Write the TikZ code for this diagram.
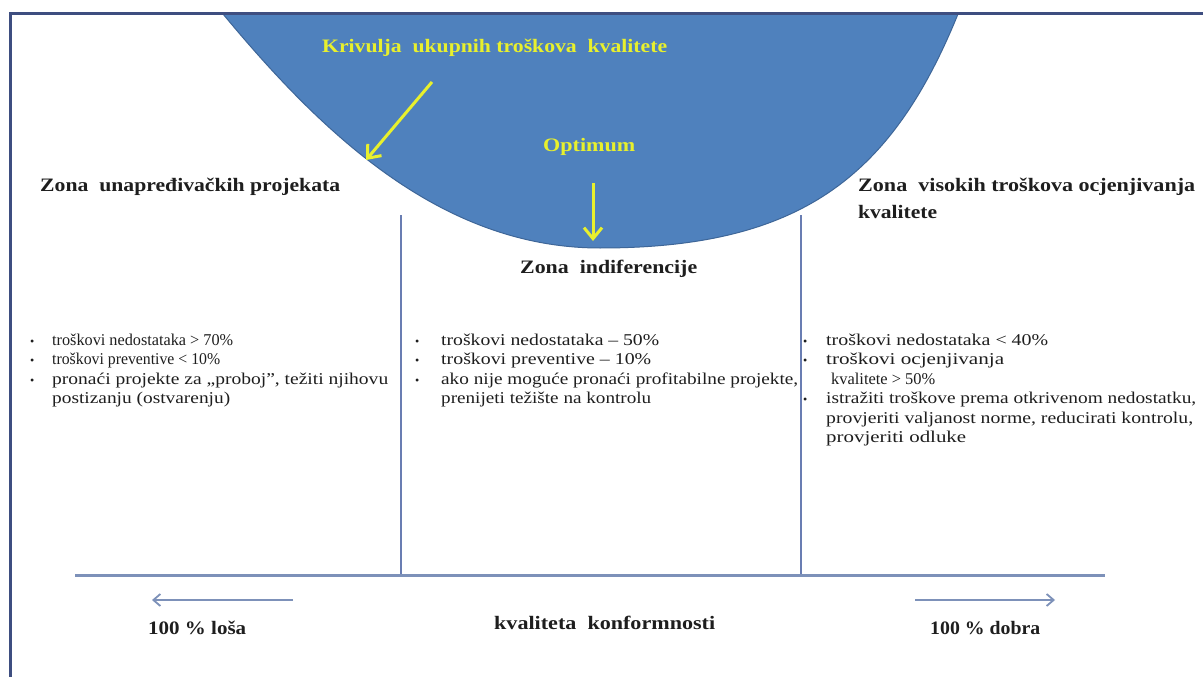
\documentclass[tikz,border=0pt]{standalone}
\usepackage{fontspec}
\usepackage{graphicx}
\setmainfont{Liberation Serif}
\usetikzlibrary{arrows.meta}
\definecolor{bowl}{RGB}{79,129,189}
\definecolor{bowledge}{RGB}{62,102,152}
\definecolor{frame}{RGB}{62,78,128}
\definecolor{axis}{RGB}{125,145,185}
\definecolor{divider}{RGB}{105,125,178}
\definecolor{yel}{RGB}{232,240,45}
\definecolor{ink}{RGB}{30,30,30}
\newcommand{\fitw}[2]{\setbox0=\hbox{#2}\pgfmathsetmacro\fitf{#1/\the\wd0}\scalebox{\fitf}[1]{\box0}}
\tikzset{
  lab/.style={font=\fontsize{19}{22}\selectfont\bfseries, text=ink, inner sep=0pt, anchor=base west},
  ylab/.style={font=\fontsize{19}{22}\selectfont\bfseries, text=yel, inner sep=0pt, anchor=base west},
  body/.style={font=\fontsize{16.5}{19}\selectfont, text=ink, inner sep=0pt, anchor=base west},
  bul/.style={font=\fontsize{12}{19}\selectfont, text=ink, inner sep=0pt, anchor=base west},
  yarrow/.style={draw=yel, line width=3pt, -{Straight Barb[length=11pt,width=18pt,line width=3pt]}},
  barrow/.style={draw=axis, line width=1.8pt, -{Straight Barb[length=7pt,width=12pt,line width=1.8pt]}},
}
\begin{document}
\begin{tikzpicture}[x=1pt,y=-1pt]
\useasboundingbox (0,0) rectangle (1203,677);
\fill[white] (0,0) rectangle (1203,677);
% bowl (total quality cost curve)
\filldraw[fill=bowl, draw=bowledge, line width=1pt]
  (223,14) .. controls (320,131) and (440,248) .. (600,248)
           .. controls (800,248) and (891.5,177.4) .. (958,14) -- cycle;
% frame
\draw[frame, line width=3pt] (10,677) -- (10,14) -- (1203,14);
% dividers and axis
\coordinate (d1t) at (401,215); \coordinate (d1b) at (401,575);
\coordinate (d2t) at (801,215); \coordinate (d2b) at (801,575);
\draw[divider, line width=1.3pt] (d1t) -- (d1b);
\draw[divider, line width=1.3pt] (d2t) -- (d2b);
\coordinate (axl) at (75,575); \coordinate (axr) at (1105,575);
\draw[axis, line width=3pt] (axl) -- (axr);
% yellow labels and arrows
\node[ylab] (kriv) at (322,53) {\fitw{345}{Krivulja\ \ ukupnih troškova\ \ kvalitete}};
\coordinate (a1s) at (432,82); \coordinate (a1e) at (366,160);
\draw[yarrow] (a1s) -- (a1e);
\node[ylab] (opt) at (543,151) {\fitw{92}{Optimum}};
\coordinate (a2s) at (593,183); \coordinate (a2e) at (593,241);
\draw[yarrow] (a2s) -- (a2e);
% zone titles
\node[lab] (z1) at (40,191) {\fitw{300}{Zona\ \ unapređivačkih projekata}};
\node[lab] (z3) at (858,191) {\fitw{337}{Zona\ \ visokih\ troškova\ ocjenjivanja}};
\node[lab] (z3b) at (858,218) {\fitw{79}{kvalitete}};
\node[lab] (z2) at (520,273) {\fitw{177}{Zona\ \ indiferencije}};
% left column
\node[bul] (lb1) at (30,345) {•};
\node[bul] (lb2) at (30,364) {•};
\node[bul] (lb3) at (30,384) {•};
\node[body] (l1) at (52,345) {\fitw{181}{troškovi nedostataka > 70\%}};
\node[body] (l2) at (52,364) {\fitw{168}{troškovi preventive < 10\%}};
\node[body] (l3) at (52,384) {\fitw{336}{pronaći projekte za „proboj”, težiti njihovu}};
\node[body] (l4) at (52,403) {\fitw{178}{postizanju (ostvarenju)}};
% middle column
\node[bul] (mb1) at (415,345) {•};
\node[bul] (mb2) at (415,364) {•};
\node[bul] (mb3) at (415,384) {•};
\node[body] (m1) at (441,345) {\fitw{218}{troškovi nedostataka – 50\%}};
\node[body] (m2) at (441,364) {\fitw{210}{troškovi preventive – 10\%}};
\node[body] (m3) at (441,384) {\fitw{357}{ako nije moguće pronaći profitabilne projekte,}};
\node[body] (m4) at (441,403) {\fitw{210}{prenijeti težište na kontrolu}};
% right column
\node[bul] (rb1) at (803,345) {•};
\node[bul] (rb2) at (803,364) {•};
\node[bul] (rb3) at (803,403) {•};
\node[body] (r1) at (826,345) {\fitw{222}{troškovi nedostataka < 40\%}};
\node[body] (r2) at (826,364) {\fitw{178}{troškovi ocjenjivanja}};
\node[body] (r3) at (831,384) {\fitw{104}{kvalitete > 50\%}};
\node[body] (r4) at (826,403) {\fitw{370}{istražiti troškove prema otkrivenom nedostatku,}};
\node[body] (r5) at (826,423) {\fitw{367}{provjeriti valjanost norme, reducirati kontrolu,}};
\node[body] (r6) at (826,442) {\fitw{140}{provjeriti odluke}};
% bottom arrows and labels
\coordinate (lal) at (152,600); \coordinate (lar) at (293,600);
\draw[barrow] (lar) -- (lal);
\coordinate (ral) at (915,600); \coordinate (rar) at (1055,600);
\draw[barrow] (ral) -- (rar);
\node[lab] (losa) at (148,634) {\fitw{98}{100 \% loša}};
\node[lab] (konf) at (494,629) {\fitw{221}{kvaliteta\ \ konformnosti}};
\node[lab] (dobra) at (930,634) {\fitw{110}{100 \% dobra}};
\end{tikzpicture}
\end{document}
